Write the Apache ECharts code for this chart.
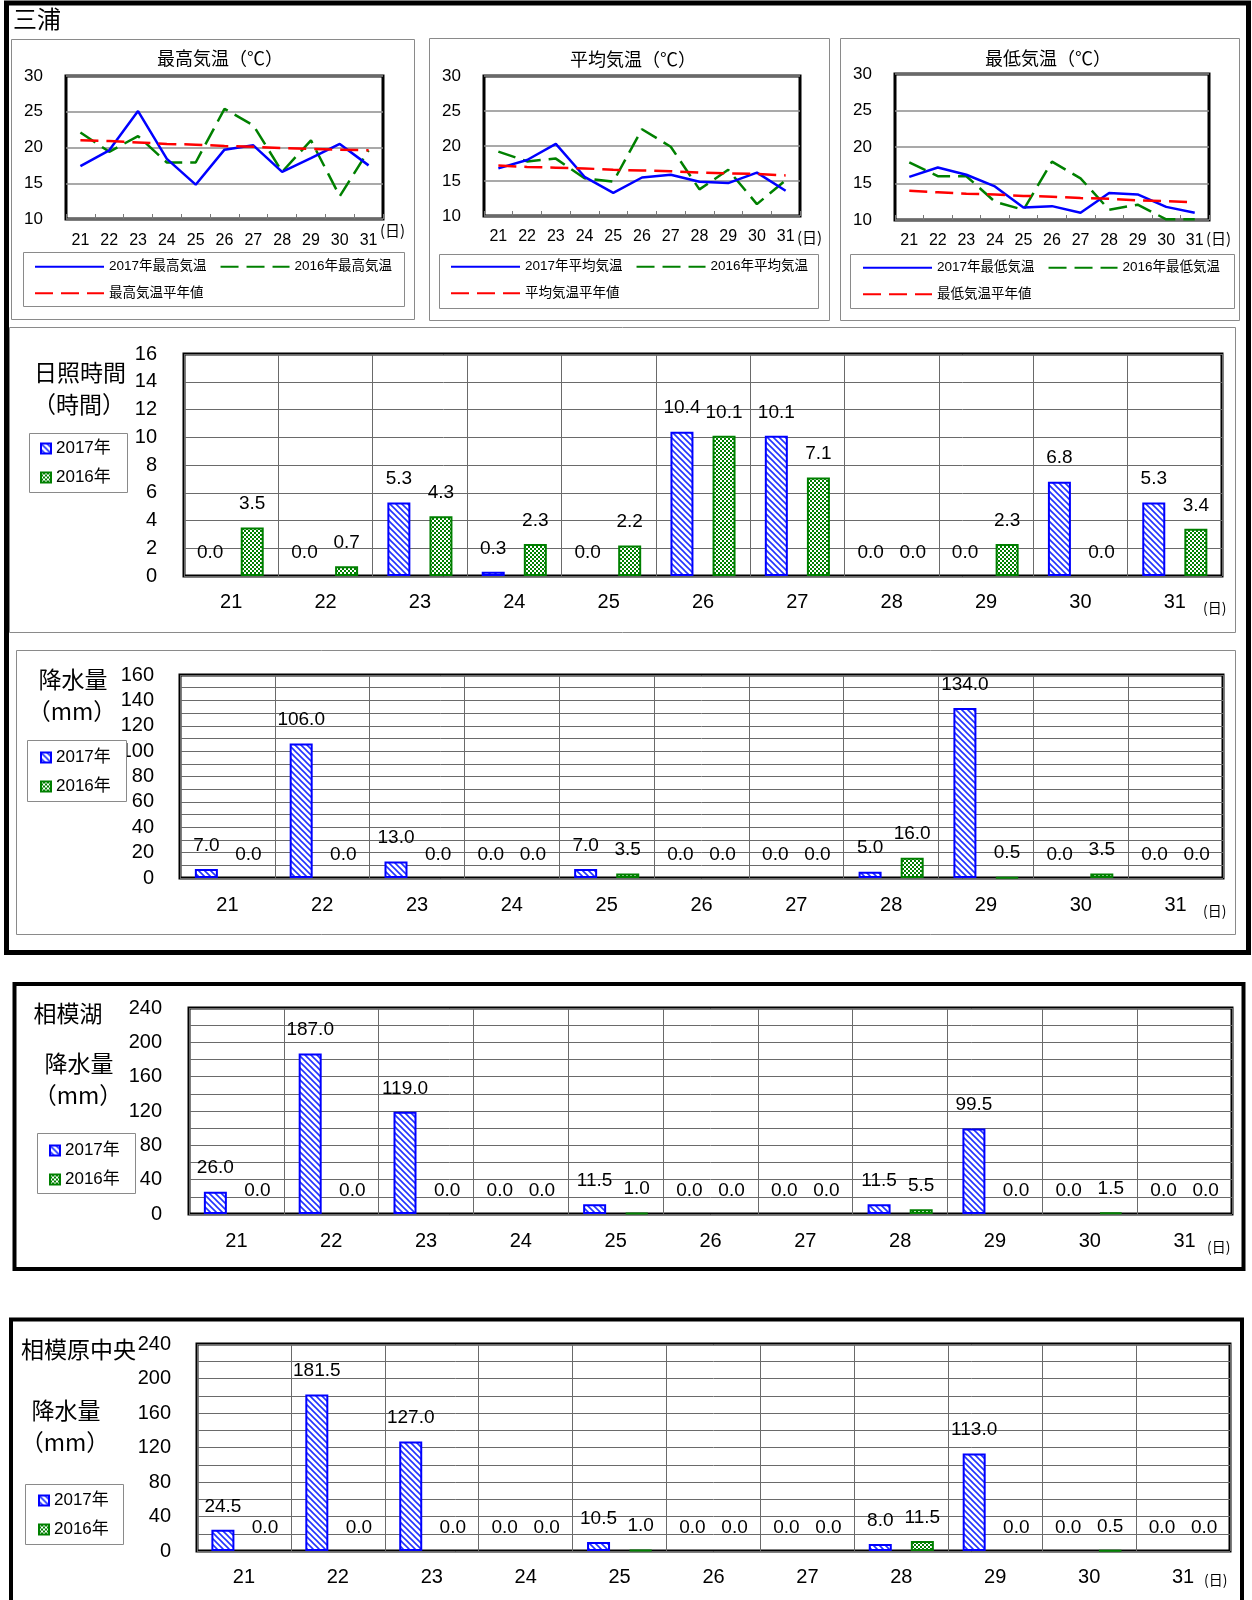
<!DOCTYPE html>
<html><head><meta charset="utf-8">
<script src="https://cdn.jsdelivr.net/npm/echarts@6/dist/echarts.min.js"></script>
<style>html,body{margin:0;padding:0;background:#fff}#c{width:1252px;height:1600px}</style>
</head><body><div id="c"></div>
<script>
// ---------- data ----------
const days = ['21','22','23','24','25','26','27','28','29','30','31'];

const maxT2017   = [17.4,19.6,25.1,18.4,14.8,19.7,20.3,16.6,18.5,20.5,17.5];
const maxT2016   = [22.1,19.4,21.6,17.9,17.9,25.4,23.1,16.6,21.0,13.2,19.6];
const maxTNormal = [21.0,20.9,20.7,20.5,20.4,20.2,20.1,19.9,19.8,19.7,19.6];

const avgT2017   = [16.8,18.0,20.3,15.6,13.3,15.5,15.9,14.9,14.7,16.2,13.6];
const avgT2016   = [19.2,17.8,18.2,15.4,14.9,22.4,19.9,13.8,16.6,11.7,15.1];
const avgTNormal = [17.2,17.0,16.9,16.8,16.6,16.5,16.4,16.2,16.1,16.0,15.8];

const minT2017   = [15.9,17.2,16.2,14.6,11.7,11.9,11.0,13.7,13.5,11.8,11.0];
const minT2016   = [17.9,16.0,16.0,12.5,11.4,18.0,15.7,11.4,12.1,10.1,10.1];
const minTNormal = [14.0,13.8,13.6,13.5,13.3,13.2,13.0,12.9,12.7,12.6,12.4];

const sun2017 = [0.0,0.0,5.3,0.3,0.0,10.4,10.1,0.0,0.0,6.8,5.3];
const sun2016 = [3.5,0.7,4.3,2.3,2.2,10.1,7.1,0.0,2.3,0.0,3.4];

const miuraRain2017 = [7.0,106.0,13.0,0.0,7.0,0.0,0.0,5.0,134.0,0.0,0.0];
const miuraRain2016 = [0.0,0.0,0.0,0.0,3.5,0.0,0.0,16.0,0.5,3.5,0.0];

const sagamikoRain2017 = [26.0,187.0,119.0,0.0,11.5,0.0,0.0,11.5,99.5,0.0,0.0];
const sagamikoRain2016 = [0.0,0.0,0.0,0.0,1.0,0.0,0.0,5.5,0.0,1.5,0.0];

const sagamiharaRain2017 = [24.5,181.5,127.0,0.0,10.5,0.0,0.0,8.0,113.0,0.0,0.0];
const sagamiharaRain2016 = [0.0,0.0,0.0,0.0,1.0,0.0,0.0,11.5,0.0,0.5,0.0];

// axis ranges / tick labels
const tempTicks  = {min:10, max:30, interval:5};
const sunTicks   = {min:0, max:16, interval:2};
const miuraRainTicks = {min:0, max:160, grid:10, label:20};
const lakeRainTicks  = {min:0, max:240, grid:20, label:40};

// ---------- styles ----------
const FF = "'Liberation Sans', Arial, 'Noto Sans CJK JP', sans-serif";
const JF = "'Noto Sans CJK JP', sans-serif";

function hatchPattern(){
  const c = document.createElement('canvas'); c.width = 6; c.height = 6;
  const g = c.getContext('2d');
  g.fillStyle = '#ffffff'; g.fillRect(0,0,6,6);
  g.strokeStyle = '#2233ff'; g.lineWidth = 1.6;
  g.beginPath();
  g.moveTo(-2,-2); g.lineTo(8,8);
  g.moveTo(-2,4); g.lineTo(2,8);
  g.moveTo(4,-2); g.lineTo(8,2);
  g.stroke();
  return c;
}
function checkerPattern(){
  const c = document.createElement('canvas'); c.width = 4; c.height = 4;
  const g = c.getContext('2d');
  g.fillStyle = '#008000'; g.fillRect(0,0,4,4);
  g.fillStyle = '#ffffff'; g.fillRect(0,0,2,2); g.fillRect(2,2,2,2);
  return c;
}
const HATCH = {image: hatchPattern(), repeat: 'repeat'};
const CHECK = {image: checkerPattern(), repeat: 'repeat'};

// ---------- layout ----------
const grids = [
  {left:66,  top:76,   width:317,  height:143},
  {left:484, top:76,   width:316,  height:140},
  {left:895, top:74,   width:314,  height:146},
  {left:184, top:354,  width:1038, height:222},
  {left:180, top:675,  width:1043, height:203},
  {left:189, top:1008, width:1043, height:206},
  {left:197, top:1344, width:1033, height:207}
].map(g => Object.assign({show:true, borderColor:'#000', borderWidth:3, backgroundColor:'#fff'}, g));

const xAxes = [], yAxes = [], series = [], legends = [];

// temperature panels
const tempSets = [
  {names:['2017年最高気温','2016年最高気温','最高気温平年値'], d:[maxT2017,maxT2016,maxTNormal], margin:14, legend:{left:34, top:260}},
  {names:['2017年平均気温','2016年平均気温','平均気温平年値'], d:[avgT2017,avgT2016,avgTNormal], margin:13, legend:{left:450, top:260}},
  {names:['2017年最低気温','2016年最低気温','最低気温平年値'], d:[minT2017,minT2016,minTNormal], margin:13, legend:{left:862, top:261}}
];
tempSets.forEach((s, i) => {
  xAxes.push({gridIndex:i, type:'category', data:days, boundaryGap:true,
    axisLine:{show:false},
    axisTick:{show:true, inside:true, length:5, interval:0, lineStyle:{color:'#777'}},
    axisLabel:{interval:0, margin:s.margin, fontSize:16, color:'#000', fontFamily:FF},
    splitLine:{show:false}});
  yAxes.push({gridIndex:i, type:'value', min:tempTicks.min, max:tempTicks.max, interval:tempTicks.interval,
    axisLine:{show:false}, axisTick:{show:false},
    axisLabel:{margin:23, fontSize:17, color:'#000', fontFamily:FF},
    splitLine:{lineStyle:{color:'#8c8c8c', width:1.5}}});
  series.push({type:'line', name:s.names[1], xAxisIndex:i, yAxisIndex:i, data:s.d[1], symbol:'none',
    lineStyle:{color:'#008000', width:2.5, type:[18,8]}, itemStyle:{color:'#008000'}, z:2});
  series.push({type:'line', name:s.names[0], xAxisIndex:i, yAxisIndex:i, data:s.d[0], symbol:'none',
    lineStyle:{color:'#0000ff', width:2.5}, itemStyle:{color:'#0000ff'}, z:3});
  series.push({type:'line', name:s.names[2], xAxisIndex:i, yAxisIndex:i, data:s.d[2], symbol:'none',
    lineStyle:{color:'#ff0000', width:2.5, type:[18,8]}, itemStyle:{color:'#ff0000'}, z:4});
  legends.push(Object.assign({data:s.names, width:390, itemWidth:69, itemHeight:14, itemGap:13,
    selectedMode:false, z:20, padding:0,
    itemStyle:{opacity:0, color:'rgba(0,0,0,0)', borderWidth:0},
    textStyle:{fontSize:13.5, color:'#000', fontFamily:FF}}, s.legend));
});

// bar panels
const barSets = [
  {d:[sun2017, sun2016], ticks:sunTicks, isSun:true, yMargin:27, xMargin:16, legend:{left:40, top:440}},
  {d:[miuraRain2017, miuraRain2016], ticks:miuraRainTicks, yMargin:26, xMargin:17, legend:{left:40, top:749}},
  {d:[sagamikoRain2017, sagamikoRain2016], ticks:lakeRainTicks, yMargin:27, xMargin:17, legend:{left:49, top:1142}},
  {d:[sagamiharaRain2017, sagamiharaRain2016], ticks:lakeRainTicks, yMargin:26, xMargin:16, legend:{left:38, top:1492}}
];
const fmt1 = p => Number(p.value).toFixed(1);
const barData = arr => arr.map(v => v === 0 ? {value:0, itemStyle:{borderWidth:0}} : v);
barSets.forEach((s, j) => {
  const k = j + 3;
  xAxes.push({gridIndex:k, type:'category', data:days, boundaryGap:true,
    axisLine:{show:false}, axisTick:{show:false},
    axisLabel:{interval:0, margin:s.xMargin, fontSize:20, color:'#000', fontFamily:FF},
    splitLine:{show:true, interval:0, lineStyle:{color:'#6a6a6a', width:1}}});
  const t = s.ticks;
  const y = {gridIndex:k, type:'value', min:t.min, max:t.max,
    axisLine:{show:false}, axisTick:{show:false},
    axisLabel:{margin:s.yMargin, fontSize:20, color:'#000', fontFamily:FF},
    splitLine:{lineStyle:{color:'#6a6a6a', width:1}}};
  if (s.isSun) { y.interval = t.interval; }
  else { y.interval = t.grid; y.axisLabel.formatter = v => (v % t.label === 0 ? String(v) : ''); }
  yAxes.push(y);
  const lbl = {show:true, position:'top', distance:14, fontSize:19, color:'#000', fontFamily:FF, formatter:fmt1};
  series.push({type:'bar', name:'2017年', xAxisIndex:k, yAxisIndex:k, data:barData(s.d[0]),
    barWidth:23, barGap:'83%', itemStyle:{color:HATCH, borderColor:'#0000ff', borderWidth:2}, label:lbl});
  series.push({type:'bar', name:'2016年', xAxisIndex:k, yAxisIndex:k, data:barData(s.d[1]),
    barWidth:23, barGap:'83%', itemStyle:{color:CHECK, borderColor:'#008000', borderWidth:2}, label:lbl});
  legends.push(Object.assign({data:['2017年','2016年'], orient:'vertical', icon:'rect',
    itemWidth:10, itemHeight:10, itemGap:12, selectedMode:false, z:20, padding:0,
    textStyle:{fontSize:17, color:'#000', fontFamily:FF}}, s.legend));
});

// ---------- graphic (frames & titles) ----------
function T(x, y, text, size, align, fam){
  return {type:'text', x:x, y:y, silent:true, z:15,
    style:{text:text, font: size + 'px ' + (fam || JF), fill:'#000',
      textAlign:align || 'center', align:align || 'center', textVerticalAlign:'middle', verticalAlign:'middle'}};
}
function R(x, y, w, h, stroke, lw, fill, z){
  return {type:'rect', silent:true, z: z || 1, shape:{x:x, y:y, width:w, height:h},
    style:{fill: fill || 'none', stroke: stroke, lineWidth: lw}};
}
const graphics = [
  R(6.5, 3, 1242, 949.5, '#000', 5),
  T(13, 19, '三浦', 24, 'left'),
  R(11.5, 39.5, 403, 280, '#8a8a8a', 1),
  R(429.5, 38.5, 400, 282, '#8a8a8a', 1),
  R(840.5, 38.5, 399, 282, '#8a8a8a', 1),
  T(220, 58, '最高気温（℃）', 18),
  T(633, 59, '平均気温（℃）', 18),
  T(1048, 58, '最低気温（℃）', 18),
  R(23.5, 252.5, 381, 54, '#8a8a8a', 1),
  R(439.5, 254.5, 379, 54, '#8a8a8a', 1),
  R(850.5, 254.5, 384, 54, '#8a8a8a', 1),
  T(380, 230, '(日)', 15, 'left'),
  T(797, 237, '(日)', 15, 'left'),
  T(1206, 238, '(日)', 15, 'left'),
  // sunshine
  R(9.5, 327.5, 1226, 305, '#8a8a8a', 1),
  T(80, 372, '日照時間', 23),
  T(79, 404, '（時間）', 23),
  R(29.5, 433.5, 98, 59, '#8a8a8a', 1, '#fff', 10),
  T(1203, 608, '(日)', 14, 'left'),
  // Miura rain
  R(16.5, 650.5, 1219, 284, '#8a8a8a', 1),
  T(73, 679, '降水量', 23),
  T(72, 711, '（mm）', 23),
  R(27.5, 740.5, 99, 61, '#8a8a8a', 1, '#fff', 10),
  T(1203, 911, '(日)', 14, 'left'),
  // Sagamiko
  R(14.5, 984, 1229, 285, '#000', 4),
  T(68, 1013, '相模湖', 23),
  T(79, 1063, '降水量', 23),
  T(78, 1095, '（mm）', 23),
  R(37.5, 1133.5, 98, 60, '#8a8a8a', 1, '#fff', 10),
  T(1207, 1247, '(日)', 14, 'left'),
  // Sagamihara
  R(11, 1319.5, 1231, 300, '#000', 4),
  T(21, 1349, '相模原中央', 23, 'left'),
  T(66, 1410, '降水量', 23),
  T(65, 1442, '（mm）', 23),
  R(25.5, 1484.5, 98, 60, '#8a8a8a', 1, '#fff', 10),
  T(1204, 1580, '(日)', 14, 'left')
];

const chart = echarts.init(document.getElementById('c'), null, {renderer:'canvas'});
chart.setOption({
  animation:false,
  backgroundColor:'#fff',
  textStyle:{fontFamily:FF},
  grid:grids, xAxis:xAxes, yAxis:yAxes, series:series, legend:legends,
  graphic:{elements:graphics}
});
</script></body></html>
